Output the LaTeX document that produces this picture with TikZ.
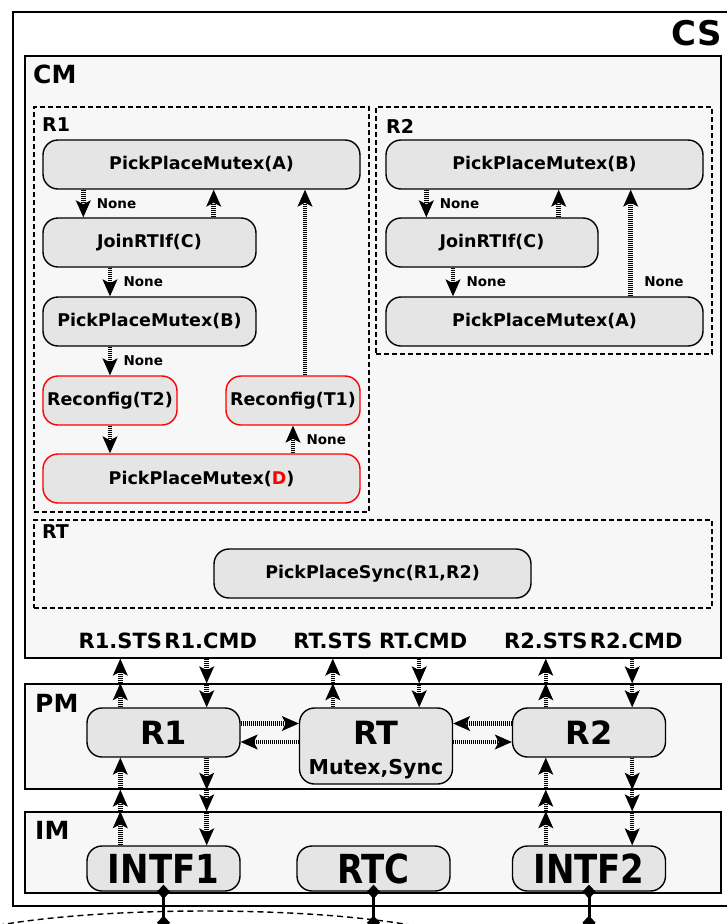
\documentclass[tikz,border=0pt]{standalone}
\usepackage{fontspec}
\setmainfont{DejaVu Sans}
\usetikzlibrary{arrows.meta}
\definecolor{blkfill}{HTML}{E5E5E5}
\definecolor{framefill}{HTML}{F7F7F7}
\definecolor{cfgred}{HTML}{FF0000}

\begin{document}
\begin{tikzpicture}[x=1pt,y=-1pt,
  frame/.style={draw,line width=1.4pt,fill=framefill,inner sep=0pt},
  group/.style={draw,line width=1.3pt,dash pattern=on 5pt off 3pt,inner sep=0pt},
  title/.style={inner sep=0pt,anchor=west,font=\bfseries\fontsize{25}{30}\selectfont},
  gtitle/.style={inner sep=0pt,anchor=west,font=\bfseries\fontsize{19}{22}\selectfont},
  blk/.style={draw,line width=1.4pt,fill=blkfill,rounded corners=15pt,inner sep=0pt,minimum height=49pt,font=\bfseries\fontsize{17.5}{20}\selectfont},
  cfg/.style={blk,draw=cfgred},
  mod/.style={blk,minimum width=153pt,font=\bfseries\fontsize{32}{36}\selectfont},
  intf/.style={mod,minimum height=45pt,font=\bfseries\fontsize{40}{44}\selectfont},
  port/.style={inner sep=0pt,above=10pt,font=\bfseries\fontsize{21}{24}\selectfont},
  none/.style={right,xshift=8pt,font=\bfseries\fontsize{13.5}{16}\selectfont},
  sig/.style={line width=4.5pt,dash pattern=on 1pt off 1pt,-{Stealth[length=17pt,width=15pt,inset=4pt,line width=1pt]}},
  tap/.style={line width=3pt,{Diamond[length=14pt,width=13pt,line width=0.4pt]}-{Diamond[length=14pt,width=13pt,line width=0.4pt]}}]
\useasboundingbox (0,0) rectangle (726,924);
\draw[dash pattern=on 6pt off 4pt,line width=1.4pt] (205,951) ellipse [x radius=270pt,y radius=40pt];
\draw[line width=1.4pt,fill=white] (13,12) rectangle (740,906);
\node[title,anchor=center,font=\bfseries\fontsize{34}{40}\selectfont] (csname) at (697,33) {CS};

% CM
\node[frame,minimum width=696pt,minimum height=602pt] (cm) at (373,357) {};
\node[title] (cmname) at (33,74) {CM};
\node[group,minimum width=335pt,minimum height=405pt] (g1) at (201.5,309.5) {};
\node[gtitle] (g1name) at (42,125) {R1};
\node[group,minimum width=336pt,minimum height=247pt] (g2) at (544,230.5) {};
\node[gtitle] (g2name) at (386,126) {R2};
\node[group,minimum width=678pt,minimum height=88pt] (g3) at (373,564) {};
\node[gtitle] (g3name) at (42,532) {RT};

\node[blk,minimum width=317pt] (r1a) at (201.5,164.5) {PickPlaceMutex(A)};
\node[blk,minimum width=213pt] (r1c) at (149.5,242.5) {JoinRTIf(C)};
\node[blk,minimum width=213pt] (r1b) at (149.5,321.5) {PickPlaceMutex(B)};
\node[cfg,minimum width=134pt] (r1t2) at (110,400.5) {Reconfig(T2)};
\node[cfg,minimum width=134pt] (r1t1) at (293,400.5) {Reconfig(T1)};
\node[cfg,minimum width=317pt] (r1d) at (201.5,478.5) {PickPlaceMutex(\textcolor{cfgred}{D})};

\node[blk,minimum width=317pt] (r2b) at (544.5,164.5) {PickPlaceMutex(B)};
\node[blk,minimum width=212pt] (r2c) at (492,242.5) {JoinRTIf(C)};
\node[blk,minimum width=317pt] (r2a) at (544.5,321.5) {PickPlaceMutex(A)};

\node[blk,minimum width=317pt] (rtsync) at (372.5,573.5) {PickPlaceSync(R1,R2)};

% PM
\node[frame,minimum width=696pt,minimum height=105pt] (pm) at (373,736.5) {};
\node[title] (pmname) at (35,703) {PM};
\node[mod] (pr1) at (163.5,732.5) {R1};
\node[mod,minimum height=76pt] (prt) at (376,746) {};
\node[inner sep=0pt,font=\bfseries\fontsize{32}{36}\selectfont] (prtname) at (376,733) {RT};
\node[inner sep=0pt,font=\bfseries\fontsize{20.5}{24}\selectfont] (prtsub) at (376,769) {Mutex,Sync};
\node[mod] (pr2) at (589,732.5) {R2};

% IM
\node[frame,minimum width=696pt,minimum height=81pt] (im) at (373,852.5) {};
\node[title] (imname) at (35,830) {IM};
\node[intf] (intf1) at (163.5,868.5) {\scalebox{0.85}[1]{INTF1}};
\node[intf] (rtc) at (373.5,868.5) {\scalebox{0.85}[1]{RTC}};
\node[intf] (intf2) at (589,868.5) {\scalebox{0.85}[1]{INTF2}};

% R1 flow
\draw[sig] ([xshift=41pt]r1a.south west) -- ([xshift=41pt]r1c.north west) node[none,midway] (n1) {None};
\draw[sig] ([xshift=-43pt]r1c.north east) -- ([xshift=-43pt]r1c.north east |- r1a.south);
\draw[sig] ([xshift=12pt]r1t1.north) -- ([xshift=12pt]r1t1.north |- r1a.south);
\draw[sig] ([xshift=-39.5pt]r1c.south) -- ([xshift=-39.5pt]r1b.north) node[none,midway] (n2) {None};
\draw[sig] (r1t2.north |- r1b.south) -- (r1t2.north) node[none,midway] (n3) {None};
\draw[sig] (r1t2.south) -- (r1t2.south |- r1d.north);
\draw[sig] (r1t1.south |- r1d.north) -- (r1t1.south) node[none,midway] (n4) {None};
% R2 flow
\draw[sig] ([xshift=41pt]r2b.south west) -- ([xshift=41pt]r2c.north west) node[none,midway] (n5) {None};
\draw[sig] ([xshift=-40pt]r2c.north east) -- ([xshift=-40pt]r2c.north east |- r2b.south);
\draw[sig] ([xshift=-39pt]r2c.south) -- ([xshift=-39pt]r2c.south |- r2a.north) node[none,midway] (n6) {None};
\draw[sig] ([xshift=-73pt]r2a.north east) -- ([xshift=-73pt]r2a.north east |- r2b.south) node[none,pos=0.14] (n7) {None};

% ports CM <-> PM
\foreach \mname/\rname in {pr1/R1,prt/RT,pr2/R2}{
  \coordinate (sts\mname) at ([xshift=34pt]\mname.north west);
  \coordinate (cmd\mname) at ([xshift=-34pt]\mname.north east);
  \node[port] (lab\mname sts) at (sts\mname |- cm.south) {\rname.STS};
  \node[port,xshift=4pt] (lab\mname cmd) at (cmd\mname |- cm.south) {\rname.CMD};
  \draw[sig] (sts\mname) -- (sts\mname |- pm.north);
  \draw[sig] (sts\mname |- pm.north) -- (sts\mname |- cm.south);
  \draw[sig] (cmd\mname |- cm.south) -- (cmd\mname |- pm.north);
  \draw[sig] (cmd\mname |- pm.north) -- (cmd\mname);
}
% PM <-> IM
\foreach \mname/\iname in {pr1/intf1,pr2/intf2}{
  \draw[sig] (sts\mname |- \iname.north) -- (sts\mname |- im.north);
  \draw[sig] (sts\mname |- im.north) -- (sts\mname |- pm.south);
  \draw[sig] (sts\mname |- pm.south) -- (sts\mname |- \mname.south);
  \draw[sig] (cmd\mname |- \mname.south) -- (cmd\mname |- pm.south);
  \draw[sig] (cmd\mname |- pm.south) -- (cmd\mname |- im.north);
  \draw[sig] (cmd\mname |- im.north) -- (cmd\mname |- \iname.north);
}
% R1/R2 <-> RT
\draw[sig] ([yshift=9pt]pr1.east) -- ([yshift=9pt]pr1.east -| prt.west);
\draw[sig] ([yshift=-9.5pt]pr1.east -| prt.west) -- ([yshift=-9.5pt]pr1.east);
\draw[sig] ([yshift=9pt]pr2.west) -- ([yshift=9pt]pr2.west -| prt.east);
\draw[sig] ([yshift=-9.5pt]pr2.west -| prt.east) -- ([yshift=-9.5pt]pr2.west);

% taps
\foreach \iname in {intf1,rtc,intf2}{
  \coordinate (tap\iname) at ([yshift=-38pt]\iname.south);
  \draw[tap] ([yshift=7pt]\iname.south) -- (tap\iname);
}
\end{tikzpicture}
\end{document}
